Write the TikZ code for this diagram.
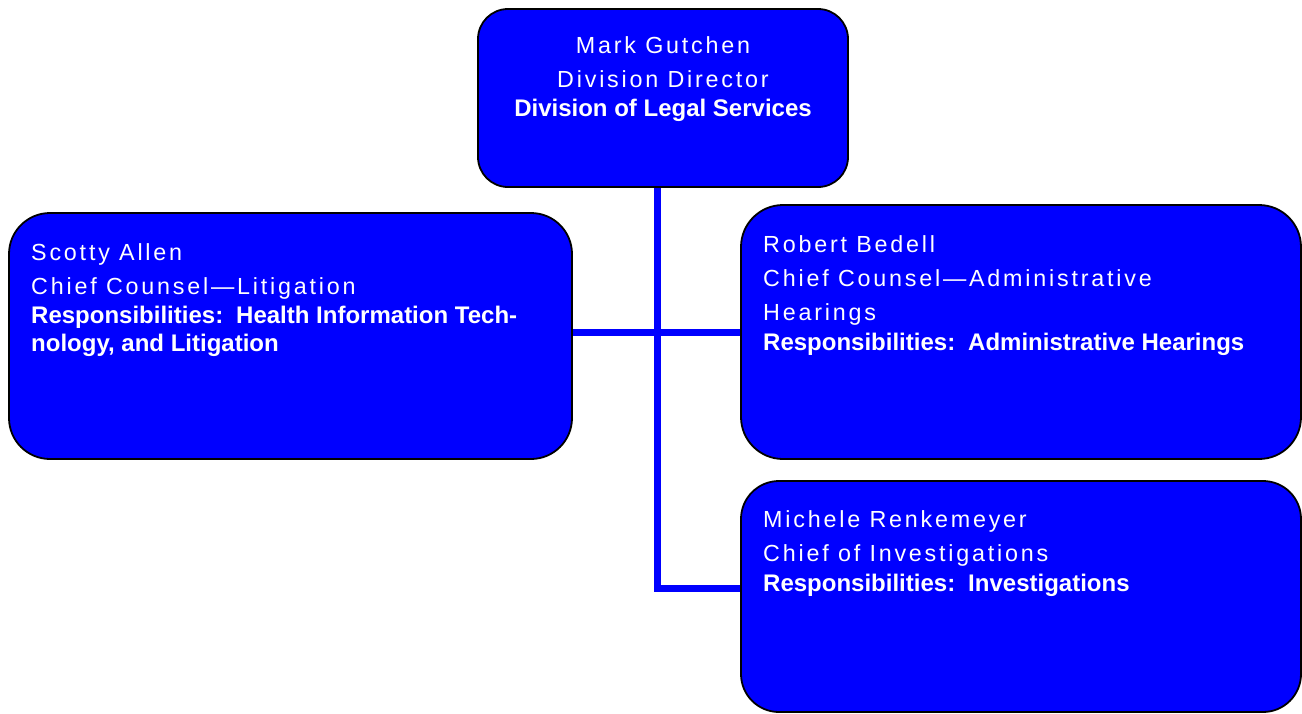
\documentclass[tikz,border=0pt]{standalone}
\usepackage{fontspec}
\usetikzlibrary{backgrounds}
\setmainfont{Liberation Sans}
\newfontfamily\regfont[LetterSpace=12]{Liberation Sans}
\definecolor{boxblue}{RGB}{0,0,255}
\begin{document}
\begin{tikzpicture}[x=1pt,y=-1pt,
  box/.style={draw=black,line width=1.8pt,fill=boxblue,rectangle,inner sep=0pt},
  reg/.style={text=white,font=\regfont\fontsize{23.3}{28}\selectfont,inner sep=0pt},
  bld/.style={text=white,font=\bfseries\fontsize{24}{28}\selectfont,inner sep=0pt},
  conn/.style={draw=boxblue,line width=7pt}]
\useasboundingbox (0,0) rectangle (1302,713);

% boxes
\node[box,rounded corners=30pt,minimum width=370pt,minimum height=178pt] (top) at (663,98) {};
\node[box,rounded corners=41pt,minimum width=563pt,minimum height=246pt] (left) at (290.5,336) {};
\node[box,rounded corners=42pt,minimum width=560pt,minimum height=254pt] (rb) at (1021,332) {};
\node[box,rounded corners=38pt,minimum width=560pt,minimum height=231pt] (rm) at (1021,596.5) {};

% connectors (behind the boxes)
\coordinate (j1) at (657,332);
\coordinate (j2) at (657,588);
\begin{scope}[on background layer]
\draw[conn] (top.south -| j1) -- (j2) -- (rm.west |- j2);
\draw[conn] (left.east |- j1) -- (rb.west |- j1);
\end{scope}

% top box text
\node[reg,anchor=base] (t1) at (663,53) {Mark Gutchen};
\node[reg,anchor=base] (t2) at (663,87) {Division Director};
\node[bld,anchor=base] (t3) at (663,116) {Division of Legal Services};

% left box text
\node[reg,anchor=base west] (l1) at (31,260) {Scotty Allen};
\node[reg,anchor=base west] (l2) at (31,294) {Chief Counsel—Litigation};
\node[bld,anchor=base west] (l3) at (31,323) {Responsibilities:\hspace{13pt}Health Information Tech-};
\node[bld,anchor=base west] (l4) at (31,351) {nology, and Litigation};

% right box text
\node[reg,anchor=base west] (r1) at (763,252) {Robert Bedell};
\node[reg,anchor=base west] (r2) at (763,286) {Chief Counsel—Administrative};
\node[reg,anchor=base west] (r3) at (763,320) {Hearings};
\node[bld,anchor=base west] (r4) at (763,350) {Responsibilities:\hspace{13pt}Administrative Hearings};

% bottom right box text
\node[reg,anchor=base west] (m1) at (763,527) {Michele Renkemeyer};
\node[reg,anchor=base west] (m2) at (763,561) {Chief of Investigations};
\node[bld,anchor=base west] (m3) at (763,591) {Responsibilities:\hspace{13pt}Investigations};
\end{tikzpicture}
\end{document}
